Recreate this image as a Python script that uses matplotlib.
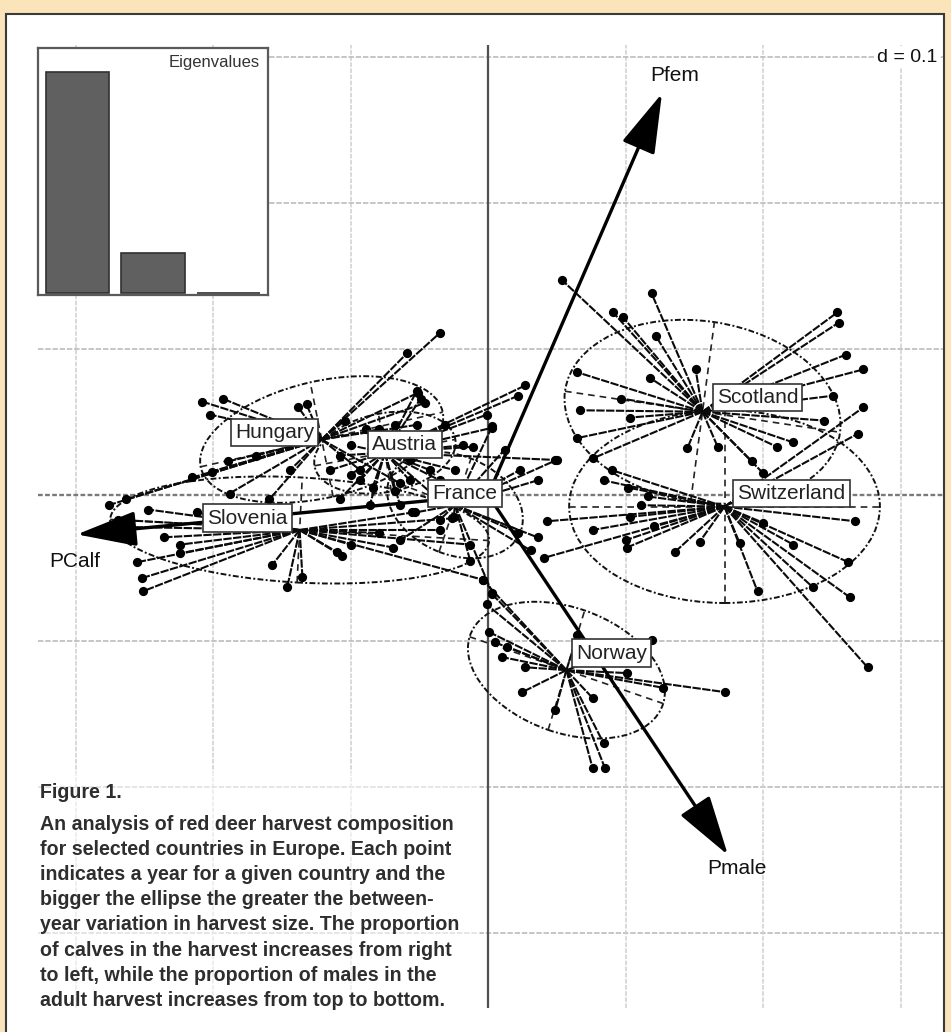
import matplotlib
matplotlib.use("Agg")
import matplotlib.pyplot as plt
from matplotlib.patches import Ellipse, Rectangle, FancyArrowPatch
from matplotlib.collections import LineCollection
import numpy as np

# ---------------- data (d = 0.1 grid units) ----------------
countries = ["Hungary", "Austria", "Slovenia", "France", "Scotland", "Switzerland", "Norway"]
center_x = [-0.121, -0.075, -0.137, -0.024, 0.156, 0.172, 0.057]
center_y = [0.038, 0.029, -0.024, -0.007, 0.057, -0.008, -0.120]
ellipse_a = [0.090, 0.052, 0.138, 0.051, 0.101, 0.113, 0.074]
ellipse_b = [0.040, 0.027, 0.036, 0.034, 0.062, 0.066, 0.043]
ellipse_angle = [12, 10, -3, -20, -8, 0, -18]

hungary_x = [-0.208, -0.202, -0.193, -0.138, -0.132, -0.201, -0.189, -0.215, -0.188, -0.059, -0.035,
             -0.051, -0.046, -0.052, -0.169, -0.144, -0.093, -0.104, -0.079, -0.159, -0.064, -0.263, -0.276]
hungary_y = [0.064, 0.055, 0.066, 0.060, 0.062, 0.016, 0.023, 0.012, 0.001, 0.097, 0.111,
             0.070, 0.063, 0.048, 0.027, 0.017, 0.017, 0.051, 0.045, -0.003, 0.008, -0.003, -0.007]
austria_x = [-0.018, -0.011, 0.003, -0.001, 0.027, 0.022, 0.049, -0.049, -0.052, -0.042, -0.057,
             -0.100, -0.108, -0.089, -0.068, -0.031, -0.084, -0.036, -0.064,
             -0.100, -0.093, -0.115, -0.057, -0.049, -0.068, -0.035, -0.024, -0.108, -0.086]
austria_y = [0.034, 0.033, 0.046, 0.055, 0.075, 0.068, 0.024, 0.066, 0.071, 0.017, 0.010,
             0.014, 0.027, 0.045, 0.048, 0.048, 0.005, -0.003, -0.007,
             0.034, 0.010, 0.017, 0.024, 0.038, 0.003, 0.010, 0.017, -0.003, -0.007]
slovenia_x = [-0.260, -0.255, -0.252, -0.251, -0.224, -0.224, -0.236, -0.157, -0.146, -0.135, -0.106,
              -0.110, -0.069, -0.026, -0.004, -0.212, -0.079, -0.055, -0.269, -0.247, -0.035, -0.013, -0.100]
slovenia_y = [-0.022, -0.046, -0.057, -0.066, -0.034, -0.040, -0.029, -0.048, -0.063, -0.056, -0.042,
              -0.039, -0.036, -0.016, -0.058, -0.012, -0.026, -0.012, -0.017, -0.010, -0.024, -0.034, -0.034]
france_x = [0.050, 0.023, 0.036, 0.036, 0.022, 0.031, 0.003, -0.025, -0.013, 0.012, 0.003,
            -0.035, -0.053, -0.064]
france_y = [0.024, 0.017, 0.010, -0.029, -0.026, -0.038, -0.067, -0.015, -0.045, 0.031, 0.047,
            -0.017, -0.012, -0.031]
scotland_x = [0.054, 0.119, 0.091, 0.098, 0.122, 0.151, 0.118, 0.065, 0.097, 0.067, 0.103, 0.065, 0.076,
              0.145, 0.167, 0.254, 0.255, 0.260, 0.273, 0.251, 0.244, 0.222, 0.210, 0.200, 0.192]
scotland_y = [0.147, 0.138, 0.125, 0.122, 0.109, 0.086, 0.080, 0.084, 0.066, 0.058, 0.053, 0.039, 0.025,
              0.032, 0.033, 0.125, 0.118, 0.096, 0.086, 0.068, 0.051, 0.036, 0.033, 0.015, 0.023]
switzerland_x = [0.276, 0.263, 0.262, 0.267, 0.236, 0.222, 0.196, 0.183, 0.200, 0.136, 0.154, 0.101, 0.100,
                 0.076, 0.043, 0.041, 0.103, 0.084, 0.102, 0.090, 0.116, 0.273, 0.269, 0.121, 0.111]
switzerland_y = [-0.118, -0.070, -0.046, -0.018, -0.063, -0.034, -0.066, -0.033, -0.019, -0.039, -0.032,
                 -0.036, -0.031, -0.024, -0.018, -0.043, -0.015, 0.010, 0.005, 0.017, -0.001, 0.060,
                 0.042, -0.021, -0.007]
norway_x = [0.003, -0.001, 0.001, 0.005, 0.010, 0.014, 0.027, 0.025, 0.049, 0.076, 0.084, 0.076, 0.085,
            0.127, 0.172, 0.119, 0.065, 0.101, -0.004]
norway_y = [-0.068, -0.075, -0.094, -0.101, -0.111, -0.104, -0.118, -0.135, -0.147, -0.139, -0.170,
            -0.187, -0.187, -0.132, -0.135, -0.099, -0.096, -0.122, -0.058]

var_names = ["PCalf", "Pfem", "Pmale"]
var_x = [-0.299, 0.1265, 0.1745]
var_y = [-0.027, 0.275, -0.2466]

eigenvalues = [1.0, 0.181, 0.0]

caption_title = "Figure 1."
caption_lines = [
    "An analysis of red deer harvest composition",
    "for selected countries in Europe. Each point",
    "indicates a year for a given country and the",
    "bigger the ellipse the greater the between-",
    "year variation in harvest size. The proportion",
    "of calves in the harvest increases from right",
    "to left, while the proportion of males in the",
    "adult harvest increases from top to bottom.",
]

points_x = [hungary_x, austria_x, slovenia_x, france_x, scotland_x, switzerland_x, norway_x]
points_y = [hungary_y, austria_y, slovenia_y, france_y, scotland_y, switzerland_y, norway_y]

# ---------------- layout / style ----------------
W, H = 951, 1032
FONT = "Liberation Sans"
fig = plt.figure(figsize=(W / 100, H / 100), dpi=100, facecolor="#FBE3BA")

panel = Rectangle((6 / W, -0.01), (944 - 6) / W, 1.01 - 14 / H, transform=fig.transFigure,
                  facecolor="white", edgecolor="#3a3a3a", lw=1.5, zorder=0)
fig.add_artist(panel)

ax = fig.add_axes([38 / W, 24 / H, 905 / W, 963 / H])
ax.set_xlim(-0.3273, 0.3309)
ax.set_ylim(-0.3514, 0.3082)
ax.axis("off")

grid_vals = np.round(np.arange(-0.3, 0.31, 0.1), 2)
for g in grid_vals:
    if g != 0:
        ax.axvline(g, color="#d0d0d0", lw=1.1, ls=(0, (3, 1)), zorder=0)
        ax.axhline(g, color="#c0c0c0", lw=1.3, ls=(0, (3, 1)), zorder=0)
ax.axhline(0, color="#7a7a7a", lw=1.7, ls=(0, (2, 1)), zorder=1)
ax.axvline(0, color="#505050", lw=1.6, zorder=1)

label_offsets = {"Hungary": (-47, 7), "Austria": (20, 8), "Slovenia": (-52, 12), "France": (10, 12),
                 "Scotland": (55, 14), "Switzerland": (67, 13), "Norway": (45, 17)}

for i, name in enumerate(countries):
    cx, cy = center_x[i], center_y[i]
    a, b, ang = ellipse_a[i], ellipse_b[i], ellipse_angle[i]
    ax.add_patch(Ellipse((cx, cy), 2 * a, 2 * b, angle=ang, fill=False, ec="#111111",
                         lw=1.4, ls=(0, (3, 1.2, 1, 1.2)), zorder=2))
    t = np.deg2rad(ang)
    ax.plot([cx - a * np.cos(t), cx + a * np.cos(t)], [cy - a * np.sin(t), cy + a * np.sin(t)],
            color="#222222", lw=1.2, ls=(0, (4, 3)), zorder=2)
    ax.plot([cx + b * np.sin(t), cx - b * np.sin(t)], [cy - b * np.cos(t), cy + b * np.cos(t)],
            color="#222222", lw=1.2, ls=(0, (4, 3)), zorder=2)
    segs = [[(cx, cy), (px, py)] for px, py in zip(points_x[i], points_y[i])]
    ax.add_collection(LineCollection(segs, colors="#0a0a0a", linewidths=1.5,
                                     linestyles=[(0, (4, 0.7))], zorder=3))
    ax.scatter(points_x[i], points_y[i], s=44, c="black", lw=0, zorder=4)

for i, name in enumerate(countries):
    ax.annotate(name, xy=(center_x[i], center_y[i]), xytext=label_offsets[name],
                textcoords="offset pixels", ha="center", va="center", fontsize=15, family=FONT,
                color="#222222", zorder=8,
                bbox=dict(boxstyle="square,pad=0.2", fc="white", ec="#333333", lw=1.2))

var_offsets = {"PCalf": (-2, -27), "Pfem": (13, 18), "Pmale": (9, -14)}
for name, vx, vy in zip(var_names, var_x, var_y):
    ax.add_patch(FancyArrowPatch((0, 0), (vx, vy), arrowstyle="-|>,head_length=1.7,head_width=0.5",
                                 mutation_scale=22, lw=2.4, color="black", shrinkA=0, shrinkB=0,
                                 zorder=6))
    ax.annotate(name, xy=(vx, vy), xytext=var_offsets[name], textcoords="offset pixels",
                ha="center", va="center", fontsize=15, family=FONT, color="#111111", zorder=8)

ax.text((937 - 38) / 905, (1008 - 57) / 963, "d = 0.1", transform=ax.transAxes, ha="right",
        va="center", fontsize=14, family=FONT, color="#111111", zorder=8,
        bbox=dict(boxstyle="square,pad=0.15", fc="white", ec="none"))

# caption backdrop
ax.add_patch(Rectangle((30 / W, 1 - 1012 / H), 450 / W, 240 / H, transform=fig.transFigure,
                       facecolor="white", edgecolor="none", alpha=0.55, zorder=9, clip_on=False))

# eigenvalue inset
iax = fig.add_axes([38 / W, (H - 295) / H, 230 / W, 247 / H])
iax.bar(range(len(eigenvalues)), eigenvalues, width=0.835, color="#606060", edgecolor="#303030", lw=1.2)
iax.set_xlim(-0.523, 2.523)
iax.set_ylim(-0.009, 1.109)
iax.set_xticks([])
iax.set_yticks([])
iax.set_facecolor("white")
for s in iax.spines.values():
    s.set_color("#5a5a5a")
    s.set_linewidth(1.6)
iax.text(0.962, 0.94, "Eigenvalues", transform=iax.transAxes, ha="right", va="center",
         fontsize=12, family=FONT, color="#333333")

# caption
CAP = 14.1
fig.text(40 / W, 1 - 792 / H, caption_title, ha="left", va="center", fontsize=CAP,
         family=FONT, fontweight="bold", color="#2e2e2e", zorder=10)
for k, line in enumerate(caption_lines):
    fig.text(40 / W, 1 - (824 + 25.2 * k) / H, line, ha="left", va="center", fontsize=CAP,
             family=FONT, fontweight="bold", color="#2e2e2e", zorder=10)

fig.savefig("out.png", dpi=100, facecolor=fig.get_facecolor())
